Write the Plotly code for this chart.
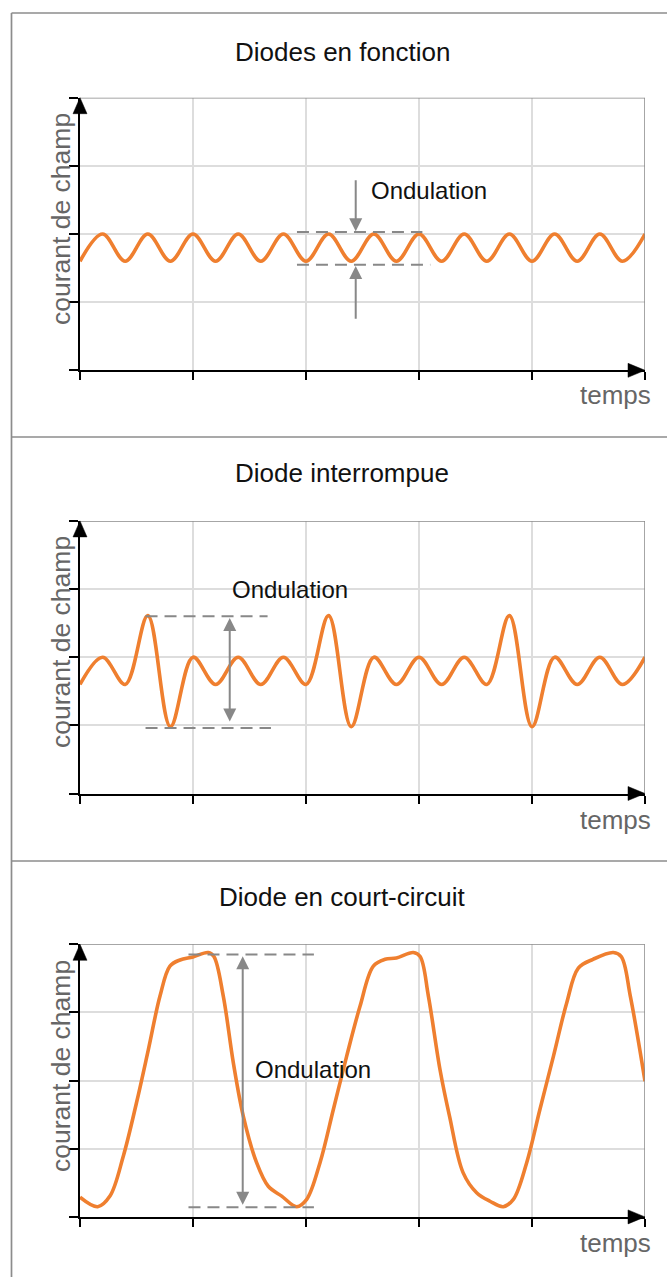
import plotly.graph_objects as go

LARGEUR, HAUTEUR = 667, 1277

titres = ["Diodes en fonction", "Diode interrompue", "Diode en court-circuit"]

t_fonction = [0.0, 0.2, 0.4, 0.6, 0.8, 1.0, 1.2, 1.4, 1.6, 1.8, 2.0, 2.2, 2.4,
              2.6, 2.8, 3.0, 3.2, 3.4, 3.6, 3.8, 4.0, 4.2, 4.4, 4.6, 4.8, 5.0]
i_fonction = [1.6, 2.0, 1.6, 2.0, 1.6, 2.0, 1.6, 2.0, 1.6, 2.0, 1.6, 2.0, 1.6,
              2.0, 1.6, 2.0, 1.6, 2.0, 1.6, 2.0, 1.6, 2.0, 1.6, 2.0, 1.6, 2.0]

t_interrompue = [0.0, 0.2, 0.4, 0.6, 0.8, 1.0, 1.2, 1.4, 1.6, 1.8, 2.0, 2.2, 2.4,
                 2.6, 2.8, 3.0, 3.2, 3.4, 3.6, 3.8, 4.0, 4.2, 4.4, 4.6, 4.8, 5.0]
i_interrompue = [1.6, 2.0, 1.6, 2.61, 0.98, 2.0, 1.6, 2.0, 1.6, 2.0, 1.6, 2.61, 0.98,
                 2.0, 1.6, 2.0, 1.6, 2.0, 1.6, 2.61, 0.98, 2.0, 1.6, 2.0, 1.6, 2.0]

t_court = [0.0, 0.157, 0.265, 0.383, 0.5, 0.605, 0.708, 0.796, 0.885, 1.0, 1.135,
           1.185, 1.268, 1.357, 1.445, 1.563, 1.666, 1.785, 1.918, 2.006, 2.124,
           2.242, 2.36, 2.478, 2.596, 2.7, 2.8, 2.95, 3.01, 3.083, 3.186, 3.27,
           3.39, 3.51, 3.628, 3.746, 3.835, 3.953, 4.07, 4.19, 4.307, 4.41, 4.54,
           4.72, 4.79, 4.87, 5.0]
i_court = [0.29, 0.15, 0.305, 0.89, 1.675, 2.455, 3.24, 3.68, 3.77, 3.815, 3.88,
           3.82, 3.24, 2.26, 1.48, 0.795, 0.45, 0.305, 0.15, 0.257, 0.795,
           1.576, 2.36, 3.09, 3.68, 3.78, 3.8, 3.88, 3.82, 3.24, 2.16, 1.48,
           0.65, 0.355, 0.23, 0.15, 0.257, 0.795, 1.576, 2.36, 3.14, 3.65, 3.78,
           3.88, 3.82, 3.24, 1.99]

series = [(t_fonction, i_fonction), (t_interrompue, i_interrompue), (t_court, i_court)]

# limites de l'ondulation (trait haut, trait bas)
ond_haut = [2.03, 2.6, 3.85]
ond_bas = [1.55, 0.96, 0.14]

ORANGE = "#ef7f2f"
GRIS = "#888888"
POLICE = "Liberation Sans, Arial, sans-serif"

# mise en page en pixels
x_gauche, x_droite = 80, 645
hauts = [97.7, 520.9, 944.3]
h_trace = 272.6
titre_y = [52, 473, 897]
label_y = [219, 642, 1066]
temps_y = [395, 820, 1243]

fig = go.Figure()
shapes = []
annotations = []


def py(p):
    return 1 - p / HAUTEUR


for k in range(3):
    suf = "" if k == 0 else str(k + 1)
    xa, ya = "x" + suf, "y" + suf
    t, i = series[k]
    fig.add_trace(go.Scatter(x=t, y=i, mode="lines", xaxis=xa, yaxis=ya,
                             line=dict(color=ORANGE, width=3.6, shape="spline", smoothing=1),
                             hoverinfo="skip", showlegend=False))

    axe = dict(showticklabels=False, ticks="outside", tickcolor="black", tickwidth=2,
               showgrid=True, gridcolor="#dddddd", gridwidth=1.5, zeroline=False,
               showline=True, linecolor="black", linewidth=2, fixedrange=True)
    fig.layout["xaxis" + suf] = dict(axe, domain=[x_gauche / LARGEUR, x_droite / LARGEUR],
                                     range=[0, 5], tickvals=[0, 1, 2, 3, 4, 5], ticklen=8,
                                     anchor=ya)
    fig.layout["yaxis" + suf] = dict(axe, domain=[py(hauts[k] + h_trace), py(hauts[k])],
                                     range=[0, 4], tickvals=[0, 1, 2, 3, 4], ticklen=9, anchor=xa)

    # bord haut et droit du cadre du tracé
    shapes.append(dict(type="line", xref=xa, yref=ya, x0=0, x1=5, y0=4, y1=4,
                       line=dict(color=GRIS, width=1.5)))
    shapes.append(dict(type="line", xref=xa, yref=ya, x0=5, x1=5, y0=0, y1=4,
                       line=dict(color=GRIS, width=1.5)))
    # flèches des axes (repère papier pour ne pas être coupées)
    shapes.append(dict(type="path", xref="paper", yref="paper", xsizemode="pixel",
                       ysizemode="pixel", xanchor=x_gauche / LARGEUR, yanchor=py(hauts[k]),
                       path="M0,0 L-7,-16 L7,-16 Z",
                       fillcolor="black", line=dict(color="black", width=0.5)))
    shapes.append(dict(type="path", xref="paper", yref="paper", xsizemode="pixel",
                       ysizemode="pixel", xanchor=x_droite / LARGEUR,
                       yanchor=py(hauts[k] + h_trace), path="M0,0 L-17,7 L-17,-7 Z",
                       fillcolor="black", line=dict(color="black", width=0.5)))

    annotations.append(dict(text=titres[k], xref="paper", yref="paper", x=342 / LARGEUR,
                            y=py(titre_y[k]), xanchor="center", yanchor="middle",
                            showarrow=False, font=dict(size=26, color="#111111")))
    annotations.append(dict(text="courant de champ", xref="paper", yref="paper",
                            x=61 / LARGEUR, y=py(label_y[k]), textangle=-90,
                            xanchor="center", yanchor="middle", showarrow=False,
                            font=dict(size=26.5, color="#666666")))
    annotations.append(dict(text="temps", xref="paper", yref="paper", x=653 / LARGEUR,
                            y=py(temps_y[k]), xanchor="right", yanchor="middle",
                            showarrow=False, font=dict(size=26, color="#666666")))

# traits pointillés et flèches de l'ondulation
tirets = "12px,7px"
traits = [("", 1.92, 3.03, 3.1), ("2", 0.58, 1.66, 1.69), ("3", 0.96, 2.07, 2.07)]
for k, (suf, xd, xf_haut, xf_bas) in enumerate(traits):
    shapes.append(dict(type="line", xref="x" + suf, yref="y" + suf, x0=xd, x1=xf_haut,
                       y0=ond_haut[k], y1=ond_haut[k], line=dict(color=GRIS, width=2, dash=tirets)))
    shapes.append(dict(type="line", xref="x" + suf, yref="y" + suf, x0=xd, x1=xf_bas,
                       y0=ond_bas[k], y1=ond_bas[k], line=dict(color=GRIS, width=2, dash=tirets)))

fleche = dict(text="", showarrow=True, arrowhead=2, arrowsize=1.3, arrowwidth=2,
              arrowcolor=GRIS, standoff=0)
annotations.append(dict(fleche, xref="x", yref="y", axref="x", ayref="y",
                        x=2.44, y=2.04, ax=2.44, ay=2.81))
annotations.append(dict(fleche, xref="x", yref="y", axref="x", ayref="y",
                        x=2.44, y=1.53, ax=2.44, ay=0.735))
annotations.append(dict(fleche, xref="x2", yref="y2", axref="x2", ayref="y2",
                        x=1.325, y=2.574, ax=1.325, ay=1.036, arrowside="end+start",
                        startarrowhead=2, startarrowsize=1.3, startstandoff=0))
annotations.append(dict(fleche, xref="x3", yref="y3", axref="x3", ayref="y3",
                        x=1.44, y=3.824, ax=1.44, ay=0.158, arrowside="end+start",
                        startarrowhead=2, startarrowsize=1.3, startstandoff=0))

ond_txt = [("", 2.56, 2.64), ("2", 1.33, 3.0), ("3", 1.53, 2.16)]
for suf, xt, yt in ond_txt:
    annotations.append(dict(text="Ondulation", xref="x" + suf, yref="y" + suf, x=xt, y=yt,
                            xanchor="left", yanchor="middle", showarrow=False,
                            font=dict(size=24, color="#111111")))

# cadre extérieur
cadre = dict(type="line", xref="paper", yref="paper", line=dict(color="#8c8c8c", width=1.7))
shapes.append(dict(cadre, x0=11.5 / LARGEUR, x1=11.5 / LARGEUR, y0=py(13), y1=-0.01))
for ligne in [13, 437, 861]:
    shapes.append(dict(cadre, x0=11.5 / LARGEUR, x1=1.01, y0=py(ligne), y1=py(ligne)))

fig.update_layout(width=LARGEUR, height=HAUTEUR, autosize=False,
                  margin=dict(l=0, r=0, t=0, b=0),
                  paper_bgcolor="white", plot_bgcolor="white",
                  font=dict(family=POLICE),
                  shapes=shapes, annotations=annotations, showlegend=False)

fig.write_html("out.html", config={"displayModeBar": False},
               post_script="document.body.style.margin='0';")
